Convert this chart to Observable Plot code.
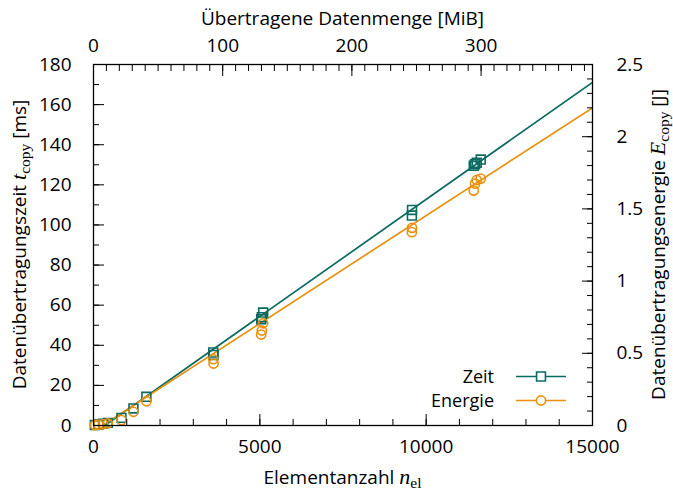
<!DOCTYPE html>
<html>
<head>
<meta charset="utf-8">
<script src="https://cdn.jsdelivr.net/npm/d3@7"></script>
<script src="https://cdn.jsdelivr.net/npm/@observablehq/plot@0.6"></script>
<style>
  body { margin: 0; background: #fff; }
  #chart svg { display: block; }
</style>
</head>
<body>
<div id="chart"></div>
<script>
// Measured copy time per run (element count -> milliseconds)
const timeElements = [40, 150, 290, 430, 840, 1200, 1590, 3600, 3610, 5040, 5060, 5100, 9570, 9575, 11430, 11470, 11520, 11640];
const timeMs       = [0.2, 0.5, 0.9, 1.3, 3.8, 8.5, 14.3, 36.4, 35.2, 53.0, 54.0, 56.3, 104.7, 107.5, 129.5, 130.3, 131.0, 132.6];

// Measured copy energy per run (element count -> joules)
const energyElements = [40, 150, 290, 430, 840, 1200, 1590, 3600, 3610, 5040, 5060, 5100, 9570, 9575, 11430, 11470, 11520, 11640];
const energyJ        = [0.003, 0.006, 0.010, 0.015, 0.037, 0.095, 0.168, 0.459, 0.429, 0.630, 0.658, 0.708, 1.339, 1.369, 1.627, 1.675, 1.700, 1.710];

// Linear fits, given by their values at both ends of the element range
const fitElements = [0, 15000];
const fitTimeMs   = [-4.0, 171.1];
const fitEnergyJ  = [-0.04, 2.2];

// Axis ticks
const elementTicks      = [0, 5000, 10000, 15000];
const elementMinorTicks = d3.range(0, 15001, 1000);
const mibTicks          = [0, 100, 200, 300];
const mibMinorTicks     = d3.range(0, 390, 10);
const timeTicks         = d3.range(0, 181, 20);
const timeMinorTicks    = d3.range(0, 181, 10);
const energyTicks       = [0, 0.5, 1, 1.5, 2, 2.5];
const energyMinorTicks  = d3.range(0, 26).map(i => i / 10);

// Series labels
const seriesNames = ["Zeit", "Energie"];

const teal = "#0b6b60";
const orange = "#e8910f";

// One element is 27000 bytes: conversion to MiB for the top axis
const mibPerElement = 27000 / (1024 * 1024);
// The right axis (J) shares the left scale (ms): 2.5 J spans 180 ms
const jToMs = 180 / 2.5;

const timeData = timeElements.map((n, i) => ({n, v: timeMs[i]}));
const energyData = energyElements.map((n, i) => ({n, v: energyJ[i] * jToMs}));
const fitTime = fitElements.map((n, i) => ({n, v: fitTimeMs[i]}));
const fitEnergy = fitElements.map((n, i) => ({n, v: fitEnergyJ[i] * jToMs}));

const blank = () => "";
const major = 11, minor = 6;
const fontSize = 19;

const chart = Plot.plot({
  width: 673,
  height: 495,
  marginLeft: 93,
  marginRight: 81,
  marginTop: 64,
  marginBottom: 70,
  style: {fontFamily: "'Open Sans', sans-serif", fontSize: fontSize + "px", color: "black", background: "white"},
  x: {domain: [0, 15000]},
  y: {domain: [0, 180]},
  marks: [
    // fitted lines, clipped to the frame
    Plot.line(fitTime, {x: "n", y: "v", stroke: teal, strokeWidth: 1.7, clip: true}),
    Plot.line(fitEnergy, {x: "n", y: "v", stroke: orange, strokeWidth: 1.7, clip: true}),
    // measurements
    Plot.dot(timeData, {x: "n", y: "v", symbol: "square", r: 5, stroke: teal, strokeWidth: 1.6, fill: "none"}),
    Plot.dot(energyData, {x: "n", y: "v", symbol: "circle", r: 4.6, stroke: orange, strokeWidth: 1.6, fill: "none"}),

    // bottom axis: element count
    Plot.axisX({anchor: "bottom", ticks: elementMinorTicks, tickSize: -minor, tickFormat: blank, label: null}),
    Plot.axisX({anchor: "bottom", ticks: elementTicks, tickSize: -major, tickFormat: blank, label: null}),
    Plot.axisX({anchor: "bottom", ticks: elementTicks, tickSize: 0, tickPadding: 14, tickFormat: d => String(d), label: null}),

    // top axis: transferred data in MiB
    Plot.axisX({anchor: "top", ticks: mibMinorTicks.map(m => m / mibPerElement).filter(n => n <= 15000), tickSize: -minor, tickFormat: blank, label: null}),
    Plot.axisX({anchor: "top", ticks: mibTicks.map(m => m / mibPerElement), tickSize: -major, tickFormat: blank, label: null}),
    Plot.axisX({anchor: "top", ticks: mibTicks.map(m => m / mibPerElement), tickSize: 0, tickPadding: 13,
      tickFormat: d => String(Math.round(d * mibPerElement)), label: null}),

    // left axis: time in ms
    Plot.axisY({anchor: "left", ticks: timeMinorTicks, tickSize: -minor, tickFormat: blank, label: null}),
    Plot.axisY({anchor: "left", ticks: timeTicks, tickSize: -major, tickFormat: blank, label: null}),
    Plot.axisY({anchor: "left", ticks: timeTicks, tickSize: 0, tickPadding: 22, tickFormat: d => String(d), label: null}),

    // right axis: energy in J
    Plot.axisY({anchor: "right", ticks: energyMinorTicks.map(e => e * jToMs), tickSize: -minor, tickFormat: blank, label: null}),
    Plot.axisY({anchor: "right", ticks: energyTicks.map(e => e * jToMs), tickSize: -major, tickFormat: blank, label: null}),
    Plot.axisY({anchor: "right", ticks: energyTicks.map(e => e * jToMs), tickSize: 0, tickPadding: 24,
      tickFormat: d => String(Math.round(d / jToMs * 10) / 10), label: null}),

    Plot.frame({stroke: "black", strokeWidth: 1.3})
  ]
});

document.getElementById("chart").append(chart);

// Axis titles with italic math symbols and subscripts
const svg = d3.select(chart);
const serif = "'Liberation Serif', 'DejaVu Serif', serif";
const titles = svg.append("g").attr("fill", "black").attr("font-size", fontSize).attr("text-anchor", "middle");

const titleTop = titles.append("text").attr("x", 342.5).attr("y", 25);
titleTop.text("Übertragene Datenmenge [MiB]");

const titleBottom = titles.append("text").attr("x", 342.5).attr("y", 484);
titleBottom.append("tspan").text("Elementanzahl ");
titleBottom.append("tspan").attr("font-family", serif).attr("font-style", "italic").attr("font-size", 22).text("n");
titleBottom.append("tspan").attr("font-family", serif).attr("font-size", 15.5).attr("dy", 4).text("el");

const titleLeft = titles.append("text").attr("transform", "translate(26,244.5) rotate(-90)");
titleLeft.append("tspan").text("Datenübertragungszeit ");
titleLeft.append("tspan").attr("font-family", serif).attr("font-style", "italic").attr("font-size", 22).text("t");
titleLeft.append("tspan").attr("font-family", serif).attr("font-size", 15.5).attr("dy", 4).text("copy");
titleLeft.append("tspan").attr("dy", -4).text(" [ms]");

const titleRight = titles.append("text").attr("transform", "translate(665,244.5) rotate(-90)");
titleRight.append("tspan").text("Datenübertragungsenergie ");
titleRight.append("tspan").attr("font-family", serif).attr("font-style", "italic").attr("font-size", 22).text("E");
titleRight.append("tspan").attr("font-family", serif).attr("font-size", 15.5).attr("dy", 4).text("copy");
titleRight.append("tspan").attr("dy", -4).text(" [J]");

// Legend in the lower right of the frame
const legend = svg.append("g").attr("font-size", 18);
const legendColors = [teal, orange];
const legendSymbols = [d3.symbolSquare, d3.symbolCircle];
const legendSizes = [25 * Math.PI, 4.6 * 4.6 * Math.PI];
seriesNames.forEach((name, i) => {
  const row = legend.append("g").attr("transform", `translate(0,${383 + i * 24})`);
  row.append("text").attr("x", 494).attr("text-anchor", "end").attr("fill", "black").text(name);
  row.append("line").attr("x1", 516).attr("x2", 566).attr("y1", -6.5).attr("y2", -6.5)
    .attr("stroke", legendColors[i]).attr("stroke-width", 1.7);
  row.append("path").attr("transform", "translate(541,-6.5)")
    .attr("d", d3.symbol(legendSymbols[i], legendSizes[i])())
    .attr("fill", "white").attr("stroke", legendColors[i]).attr("stroke-width", 1.6);
});
</script>
</body>
</html>
